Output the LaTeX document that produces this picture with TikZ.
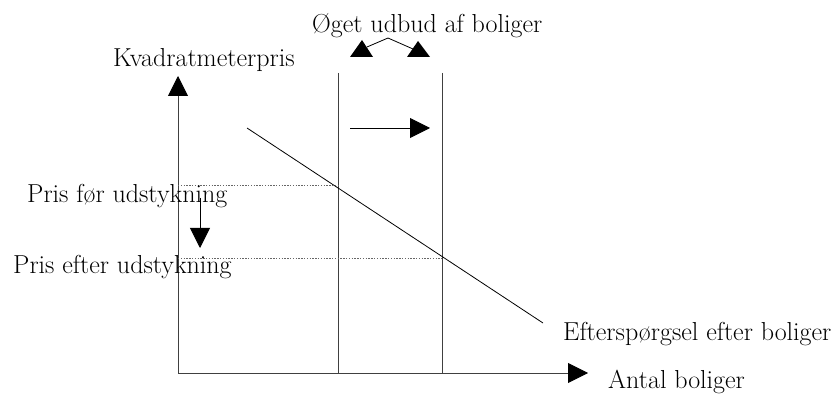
\documentclass[tikz,border=0pt]{standalone}
\usepackage{tikz}
\usetikzlibrary{arrows.meta,positioning,calc}

\begin{document}
\begin{tikzpicture}[
    x=1pt, y=-1pt,
    lbl/.style={anchor=base west, inner sep=0pt, font=\fontsize{26}{30}\selectfont},
    axis/.style={-{Triangle[length=20pt,width=20pt,color=black]}, line width=0.9pt, draw=black!75},
    supply/.style={line width=0.9pt, draw=black!75},
    guide/.style={dash pattern=on 1.4pt off 1.4pt, line width=0.8pt, draw=black!60},
    arr/.style={-{Triangle[length=20pt,width=20pt]}, line width=0.9pt}
  ]
    \useasboundingbox (0,0) rectangle (840,395);

    % Axes
    \coordinate (origin) at (178,373);
    \coordinate (ytip)   at (178,76);
    \coordinate (xtip)   at (588,373);
    \draw[axis] (origin) -- (ytip);
    \draw[axis] (origin) -- (xtip);
    \node[lbl] (ylabel) at (113,67)  {Kvadratmeterpris};
    \node[lbl] (xlabel) at (608,388) {Antal boliger};

    % Supply curves
    \coordinate (s1top) at (338,73);
    \coordinate (s1bot) at (338,373);
    \coordinate (s2top) at (442,73);
    \coordinate (s2bot) at (442,373);
    \draw[supply] (s1top) -- (s1bot);
    \draw[supply] (s2top) -- (s2bot);

    % Shift of supply
    \coordinate (shiftfrom) at (350,128);
    \coordinate (shiftto)   at (430,128);
    \draw[arr] (shiftfrom) -- (shiftto);

    % Label for increased supply
    \node[lbl] (supplylabel) at (312,33) {Øget udbud af boliger};
    \fill (350,57) -- (362,40) -- (373,57) -- cycle;
    \fill (407,57) -- (418,41) -- (430,57) -- cycle;
    \coordinate (peak)  at (388,38);
    \coordinate (lhook) at (367,47);
    \coordinate (rhook) at (413,49);
    \draw[line width=0.8pt] (lhook) -- (peak) -- (rhook);

    % Demand curve
    \coordinate (dtop) at (247,128);
    \coordinate (dbot) at (543,323);
    \draw[line width=0.8pt] (dtop) -- (dbot);
    \node[lbl] (demandlabel) at (563,340) {Efterspørgsel efter boliger};

    % Prices
    \coordinate (p1) at (178,185);
    \coordinate (q1) at (338,185);
    \coordinate (p2) at (178,258);
    \coordinate (q2) at (442,258);
    \draw[guide] (p1) -- (q1);
    \draw[guide] (p2) -- (q2);
    \node[lbl] (priceold) at (27,203) {Pris før udstykning};
    \node[lbl] (pricenew) at (13,273) {Pris efter udstykning};

    % Price drop
    \coordinate (dropfrom) at (200,198);
    \coordinate (dropto)   at (200,248);
    \draw[arr] (dropfrom) -- (dropto);
  \end{tikzpicture}
\end{document}
